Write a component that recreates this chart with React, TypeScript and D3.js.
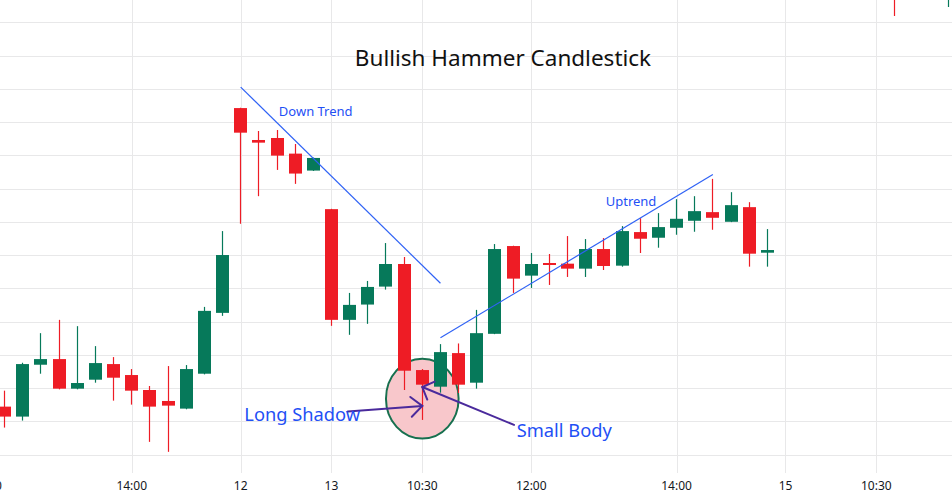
import React from "react";
import * as d3 from "d3";

// candle index (30-min bars), OHLC values
const idx = [0,1,2,3,4,5,6,7,8,9,10,11,12,13,14,15,16,17,18,19,20,21,22,23,24,25,26,27,28,29,30,31,32,33,34,35,36,37,38,39,40,41,42,43,44,45,46,47,48,49,50,51,52];
const open = [114.4,111.4,127.0,128.7,119.8,122.5,127.2,123.9,119.4,116.1,113.8,124.3,142.6,204.2,194.6,195.2,190.5,185.4,173.8,140.5,145.1,150.5,157.3,125.4,120.4,130.5,121.6,136.3,162.7,153.8,157.6,157.4,155.9,161.8,156.8,166.9,165.2,168.2,170.3,172.9,170.0,174.4,160.7,242,246,244,247,245,242,243,238.5,242,238];
const high = [119.2,127.6,136.5,140.5,138.6,132.6,129.3,125.7,120.6,126.6,126.9,144.4,167.2,204.3,197.3,197.6,193.4,189.3,173.9,148.6,152.2,163.6,159.4,125.7,133.2,133.4,143.5,163.3,162.8,160.6,160.3,165.7,164.8,165.1,168.7,171.1,172.6,176.8,177.7,182.9,178.9,175.9,167.8,248,250,249,252,248,247,246,244,245,244];
const low = [108.1,110.2,124.3,119.6,119.6,121.6,116.2,115.0,103.8,100.8,113.6,124.1,141.7,169.4,177.7,185.6,181.4,185.3,138.7,136.0,139.3,149.6,119.4,110.4,118.6,118.5,119.8,136.2,148.6,150.1,151.0,153.4,153.4,155.5,156.5,160.6,162.2,166.1,167.0,167.6,169.9,156.5,156.5,239,243,241,244,240,239,231.9,237.5,238,234.6];
const close = [111.4,127.2,128.7,119.8,121.5,127.5,123.1,119.2,114.4,114.7,125.7,143.2,160.0,196.8,193.8,189.9,184.5,189.2,140.5,145.0,150.4,157.3,125.2,121.0,130.8,121.0,136.5,161.8,152.9,157.3,157.0,155.9,161.8,156.7,167.2,164.9,168.4,170.9,173.2,171.2,175.0,160.4,161.5,246,244,247,245,242,245,238.5,242,240,242];

// time-axis tick labels at candle indices
const tickIdx = [-1, 7, 13, 18, 23, 29, 37, 43, 48];
const tickLabels = ["10:30", "14:00", "12", "13", "10:30", "12:00", "14:00", "15", "10:30"];

// price grid levels
const gridLevels = d3.range(100, 231, 10);

// annotations in data coordinates [candle index, price]
const downTrend = [[13, 210.5], [24, 151.5]];
const upTrend = [[24, 135.1], [39, 184.2]];
const hammerCircle = { cx: 23, cy: 116.8, rx: 2, ry: 12 };
const longShadowArrow = [[18.9, 112.9], [23, 114.6]];
const smallBodyArrow = [[28.05, 108.9], [23, 120.3]];
const labels = [
  { text: "Down Trend", at: [15.1, 201.8], size: 13 },
  { text: "Uptrend", at: [33.1, 174.6], size: 13 },
  { text: "Long Shadow", at: [13.2, 110.1], size: 18.3 },
  { text: "Small Body", at: [28.2, 105.3], size: 18.3 },
];
const title = "Bullish Hammer Candlestick";

const W = 952;
const H = 493;
const RED = "#ee1c25";
const GREEN = "#06795a";
const BLUE = "#1f50f5";
const TREND = "#2f62f5";
const PURPLE = "#4a2a9c";
const FONT = "'Noto Sans', 'DejaVu Sans', sans-serif";

function arrowHead(from: number[], tip: number[], len: number, ang: number) {
  const a = Math.atan2(from[1] - tip[1], from[0] - tip[0]);
  const p1 = [tip[0] + len * Math.cos(a + ang), tip[1] + len * Math.sin(a + ang)];
  const p2 = [tip[0] + len * Math.cos(a - ang), tip[1] + len * Math.sin(a - ang)];
  return `M${p1[0]},${p1[1]}L${tip[0]},${tip[1]}L${p2[0]},${p2[1]}`;
}

export default function App() {
  const x = d3.scaleLinear().domain([0, 48]).range([4.6, 876.3]);
  const y = d3.scaleLinear().domain([100, 230]).range([454.5, 22.3]);
  const step = x(1) - x(0);
  const bodyW = 13;
  const plotBottom = 473;

  const pt = (d: number[]) => [x(d[0]), y(d[1])];

  const lsFrom = pt(longShadowArrow[0]);
  const lsTip = pt(longShadowArrow[1]);
  const sbFrom = pt(smallBodyArrow[0]);
  const sbTip = pt(smallBodyArrow[1]);

  return (
    <svg
      width={W}
      height={H}
      style={{ position: "absolute", left: 0, top: 0, background: "#ffffff" }}
    >
      <rect x={0} y={0} width={W} height={H} fill="#ffffff" />
      {/* grid */}
      <g>
        {gridLevels.map((g) => (
          <line key={"h" + g} x1={0} x2={W} y1={Math.round(y(g)) + 0.5} y2={Math.round(y(g)) + 0.5} stroke="#e8e8e9" strokeWidth={1} />
        ))}
        {tickIdx.map((t, i) => (
          <line key={"v" + i} x1={Math.round(x(t)) + 0.5} x2={Math.round(x(t)) + 0.5} y1={0} y2={plotBottom} stroke="#e8e8e9" strokeWidth={1} />
        ))}
      </g>

      {/* hammer highlight */}
      <ellipse
        cx={x(hammerCircle.cx)}
        cy={y(hammerCircle.cy)}
        rx={hammerCircle.rx * step}
        ry={Math.abs(y(hammerCircle.cy + hammerCircle.ry) - y(hammerCircle.cy))}
        fill="#f8c7cb"
        stroke="#17704f"
        strokeWidth={2}
      />

      {/* candles */}
      <g>
        {idx.map((d, i) => {
          const o = open[i];
          const c = close[i];
          const up = c >= o;
          const col = up ? GREEN : RED;
          const bx = Math.round(x(d) - bodyW / 2);
          const top = y(Math.max(o, c));
          const bot = y(Math.min(o, c));
          const wx = bx + Math.floor(bodyW / 2) + 0.5;
          return (
            <g key={d}>
              <line x1={wx} x2={wx} y1={y(high[i])} y2={y(low[i])} stroke={col} strokeWidth={1.2} />
              <rect x={bx} y={top} width={bodyW} height={Math.max(1.5, bot - top)} fill={col} />
            </g>
          );
        })}
      </g>

      {/* trend lines */}
      <line x1={x(downTrend[0][0])} y1={y(downTrend[0][1])} x2={x(downTrend[1][0])} y2={y(downTrend[1][1])} stroke={TREND} strokeWidth={1.2} />
      <line x1={x(upTrend[0][0])} y1={y(upTrend[0][1])} x2={x(upTrend[1][0])} y2={y(upTrend[1][1])} stroke={TREND} strokeWidth={1.2} />

      {/* arrows */}
      <g stroke={PURPLE} strokeWidth={2} fill="none" strokeLinecap="round">
        <line x1={lsFrom[0]} y1={lsFrom[1]} x2={lsTip[0]} y2={lsTip[1]} />
        <path d={arrowHead(lsFrom, lsTip, 15, 0.72)} />
        <line x1={sbFrom[0]} y1={sbFrom[1]} x2={sbTip[0]} y2={sbTip[1]} />
        <path d={arrowHead(sbFrom, sbTip, 13.5, 0.8)} />
      </g>

      {/* labels */}
      {labels.map((l) => (
        <text key={l.text} x={x(l.at[0])} y={y(l.at[1])} fill={BLUE} fontSize={l.size} fontFamily={FONT}>
          {l.text}
        </text>
      ))}

      {/* title */}
      <text x={503} y={66} textAnchor="middle" fontSize={22.5} fill="#111111" fontFamily={FONT}>
        {title}
      </text>

      {/* time axis labels */}
      {tickIdx.map((t, i) => (
        <text key={"t" + i} x={x(t)} y={490} textAnchor="middle" fontSize={12} fill="#131722" fontFamily={FONT}>
          {tickLabels[i]}
        </text>
      ))}
    </svg>
  );
}
